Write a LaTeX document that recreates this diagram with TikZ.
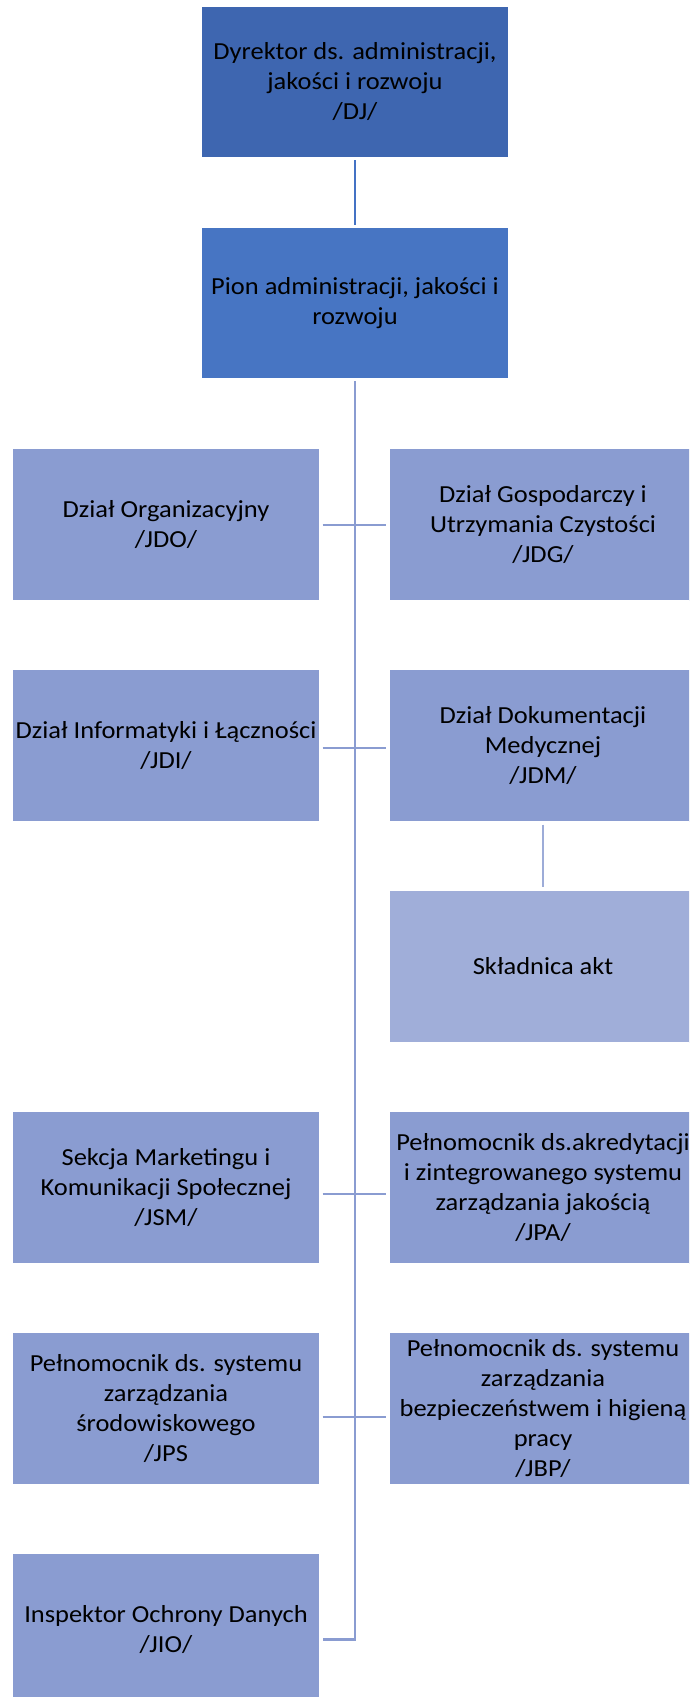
\documentclass[tikz,border=0pt]{standalone}
\usepackage{fontspec}
\setmainfont{Carlito}[FakeStretch=1.08]
\definecolor{cdj}{HTML}{3E66B0}
\definecolor{cpion}{HTML}{4775C3}
\definecolor{clev}{HTML}{8A9CD1}
\definecolor{csa}{HTML}{A0AED9}
\definecolor{lineA}{HTML}{4472C4}
\definecolor{lineB}{HTML}{8A9CD1}
\definecolor{lineC}{HTML}{9DACD8}
\begin{document}
\begin{tikzpicture}[x=1pt,y=-1pt,
  box/.style={rectangle,draw=white,line width=1.2pt,minimum width=308pt,minimum height=152pt,
    inner sep=0pt,align=center,font=\fontsize{24.5}{30}\selectfont,text=black},
  conn/.style={line width=2.4pt,draw=lineB}]
\useasboundingbox (0,0) rectangle (689,1697);
\clip (0,0) rectangle (689,1697);
\fill[white] (0,0) rectangle (689,1697);
% nodes
\node[box,fill=cdj]   (dj)   at (355,82)    {Dyrektor ds. administracji,\\jakości i rozwoju\\/DJ/};
\node[box,fill=cpion] (pion) at (355,303)   {Pion administracji, jakości i\\rozwoju};
\node[box,fill=clev]  (jdo)  at (166,524.5) {Dział Organizacyjny\\/JDO/};
\node[box,fill=clev]  (jdg)  at (543,524.5) {Dział Gospodarczy i\\Utrzymania Czystości\\/JDG/};
\node[box,fill=clev]  (jdi)  at (166,745.5) {Dział Informatyki i Łączności\\/JDI/};
\node[box,fill=clev]  (jdm)  at (543,745.5) {Dział Dokumentacji\\Medycznej\\/JDM/};
\node[box,fill=csa]   (sa)   at (543,966.5) {Składnica akt};
\node[box,fill=clev]  (jsm)  at (166,1187.5) {Sekcja Marketingu i\\Komunikacji Społecznej\\/JSM/};
\node[box,fill=clev]  (jpa)  at (543,1187.5) {Pełnomocnik ds.akredytacji\\i zintegrowanego systemu\\zarządzania jakością\\/JPA/};
\node[box,fill=clev]  (jps)  at (166,1408.5) {Pełnomocnik ds. systemu\\zarządzania\\środowiskowego\\/JPS};
\node[box,fill=clev]  (jbp)  at (543,1408.5) {Pełnomocnik ds. systemu\\zarządzania\\bezpieczeństwem i higieną\\pracy\\/JBP/};
\node[box,fill=clev]  (jio)  at (166,1629.5) {Inspektor Ochrony Danych\\/JIO/};
% connectors
\draw[line width=2.4pt,draw=lineA] ([yshift=-1.5pt]dj.south) -- ([yshift=1.5pt]pion.north);
\draw[conn] ([yshift=-1.5pt]pion.south) |- ([yshift=-10pt,xshift=2pt]jio.east);
\draw[conn] ([xshift=2pt,yshift=-0.5pt]jdo.east) -- ([xshift=-2pt,yshift=-0.5pt]jdg.west);
\draw[conn] ([xshift=2pt,yshift=-2.5pt]jdi.east) -- ([xshift=-2pt,yshift=-2.5pt]jdm.west);
\draw[conn] ([xshift=2pt,yshift=-6.5pt]jsm.east) -- ([xshift=-2pt,yshift=-6.5pt]jpa.west);
\draw[conn] ([xshift=2pt,yshift=-8.5pt]jps.east) -- ([xshift=-2pt,yshift=-8.5pt]jbp.west);
\draw[line width=2.4pt,draw=lineC] ([yshift=-2.5pt]jdm.south) -- ([yshift=2.5pt]sa.north);
\end{tikzpicture}
\end{document}
